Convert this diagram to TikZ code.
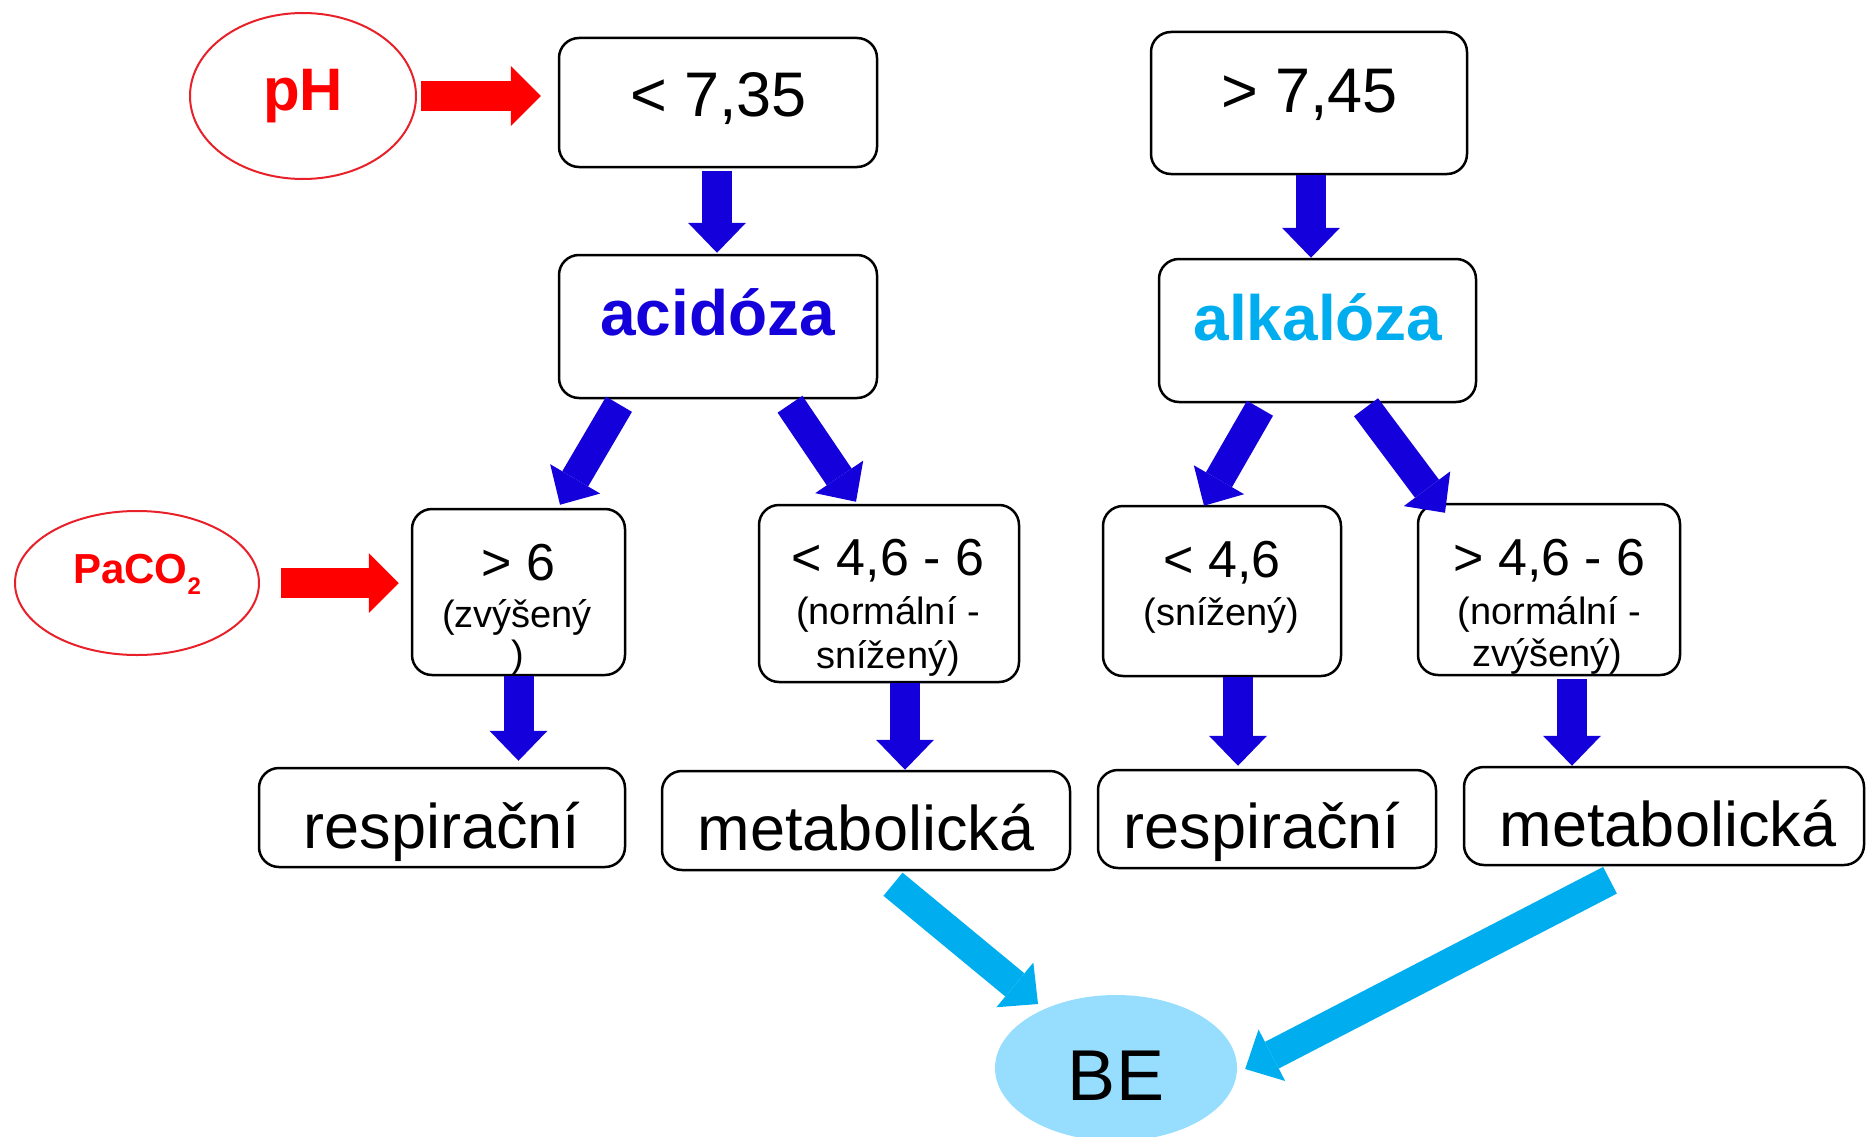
\documentclass[tikz,border=0pt]{standalone}
\usepackage{fontspec}
\setmainfont{Liberation Sans}
\usetikzlibrary{arrows.meta,calc,shapes.geometric}
\definecolor{arrowblue}{RGB}{20,0,218}
\definecolor{skyblue}{RGB}{0,174,239}
\definecolor{paleblue}{RGB}{151,221,253}
\definecolor{signalred}{RGB}{255,0,0}
\definecolor{ringred}{RGB}{232,32,42}
\newcommand\sizedfont[1]{\fontsize{#1}{#1}\selectfont}

\begin{document}
\begin{tikzpicture}[x=1pt,y=-1pt,
  box/.style={draw=black, line width=2.5pt, rounded corners=20pt, fill=white, inner sep=0pt},
  ring/.style={ellipse, draw=ringred, line width=2pt, inner sep=0pt},
  txt/.style={inner sep=0pt, anchor=base},
  fat/.style={line width=30pt, -{Triangle[length=30pt,width=58pt,line width=0pt]}},
  bluearrow/.style={fat, color=arrowblue},
  cyanarrow/.style={fat, color=skyblue},
  redarrow/.style={line width=30pt, color=signalred, -{Triangle[length=30pt,width=60pt,line width=0pt]}},
]
\useasboundingbox (0,0) rectangle (1866,1137);

% ---- ellipses ----
\node[ring, minimum width=226pt, minimum height=166pt] (ph) at (303,96) {};
\node[ring, minimum width=244pt, minimum height=144pt] (paco) at (137,583) {};
\node[ellipse, fill=paleblue, inner sep=0pt, minimum width=242pt, minimum height=146pt] (be) at (1116,1068) {};

% ---- boxes ----
\node[box, minimum width=318pt, minimum height=129pt] (b735)  at (718,102.5) {};
\node[box, minimum width=316pt, minimum height=142pt] (b745)  at (1309,103) {};
\node[box, minimum width=318pt, minimum height=143pt] (acid)  at (718,326.5) {};
\node[box, minimum width=317pt, minimum height=143pt] (alk)   at (1317.5,330.5) {};
\node[box, minimum width=213pt, minimum height=166pt] (gt6)   at (518.5,592) {};
\node[box, minimum width=260pt, minimum height=177pt] (lt466) at (889,593.5) {};
\node[box, minimum width=238pt, minimum height=170pt] (lt46)  at (1222,591) {};
\node[box, minimum width=262pt, minimum height=171pt] (gt466) at (1549,589.5) {};
\node[box, minimum width=366pt, minimum height=99pt]  (resp1) at (442,817.5) {};
\node[box, minimum width=408pt, minimum height=99pt]  (met1)  at (866,820.5) {};
\node[box, minimum width=338pt, minimum height=98pt]  (resp2) at (1267,819) {};
\node[box, minimum width=400pt, minimum height=98pt]  (met2)  at (1664,816) {};

% ---- red input arrows ----
\draw[redarrow] ($(ph.east)+(4,0)$) -- ($(ph.east -| b735.west)+(-17,0)$);
\draw[redarrow] ($(paco.east)+(21,0)$) -- ($(paco.east -| gt6.west)+(-12,0)$);

% ---- blue flow arrows ----
\draw[bluearrow] ($(b735.south)+(-1,3)$) -- ($(acid.north)+(-1,-1)$);
\draw[bluearrow] ($(b745.south)+(2,0)$) -- ($(alk.north)+(-6.5,0)$);
\draw[bluearrow] ($(acid.south)+(-99,5)$) -- ($(gt6.north)+(41.5,-3)$);
\draw[bluearrow] ($(acid.south)+(72,5)$) -- ($(lt466.north)+(-33,-2)$);
\draw[bluearrow] ($(alk.south)+(-57.5,5)$) -- ($(lt46.north)+(-18,1)$);
\draw[bluearrow] ($(alk.south)+(48.5,4)$) -- ($(gt466.north)+(-104,10)$);
\draw[bluearrow] (gt6.south) -- ($(gt6.south |- resp1.north)+(0,-6)$);
\draw[bluearrow] ($(lt466.south)+(16,0)$) -- ($(lt466.south |- met1.north)+(16,0)$);
\draw[bluearrow] ($(lt46.south)+(16,0)$) -- ($(lt46.south |- resp2.north)+(16,-3)$);
\draw[bluearrow] ($(gt466.south)+(23,3)$) -- ($(gt466.south |- met2.north)+(23,0)$);

% ---- cyan arrows into BE ----
\draw[cyanarrow] ($(met1.south)+(27,13)$) -- ($(be.center)+(-78,-64)$);
\draw[cyanarrow] ($(met2.south)+(-54,14)$) -- ($(be.east)+(8,1)$);

% ---- texts ----
\node[txt, text=signalred, font=\sizedfont{60}\bfseries] (tph) at (303,111) {pH};
\node[txt, text=signalred, font=\sizedfont{42}\bfseries] (tpaco) at (137,583)
  {PaCO\raisebox{-11pt}{\sizedfont{24}2}};
\node[txt, font=\sizedfont{72}] (tbe) at (1116,1100) {BE};

\node[txt, font=\sizedfont{63}] (t735) at (718.5,117) {< 7,35};
\node[txt, font=\sizedfont{63}] (t745) at (1309.5,113) {> 7,45};
\node[txt, text=arrowblue, font=\sizedfont{64}\bfseries] (tacid) at (717.5,335) {acidóza};
\node[txt, text=skyblue, font=\sizedfont{64}\bfseries] (talk) at (1318,340) {alkalóza};

\node[txt, font=\sizedfont{52}] (tgt6a) at (518.5,580) {> 6};
\node[txt, font=\sizedfont{38}] (tgt6b) at (517,627) {(zvýšený};
\node[txt, font=\sizedfont{38}] (tgt6c) at (518,667) {)};

\node[txt, font=\sizedfont{52}] (tlt466a) at (888,575) {< 4,6 - 6};
\node[txt, font=\sizedfont{38}] (tlt466b) at (888,624) {(normální -};
\node[txt, font=\sizedfont{38}] (tlt466c) at (888,668) {snížený)};

\node[txt, font=\sizedfont{52}] (tlt46a) at (1222,577) {< 4,6};
\node[txt, font=\sizedfont{38}] (tlt46b) at (1221.5,625) {(snížený)};

\node[txt, font=\sizedfont{52}] (tgt466a) at (1549.5,575) {> 4,6 - 6};
\node[txt, font=\sizedfont{38}] (tgt466b) at (1549.5,624) {(normální -};
\node[txt, font=\sizedfont{38}] (tgt466c) at (1547,666) {zvýšený)};

\node[txt, font=\sizedfont{63}] (tresp1) at (442,848) {respirační};
\node[txt, font=\sizedfont{63}] (tmet1)  at (866,850) {metabolická};
\node[txt, font=\sizedfont{63}] (tresp2) at (1262,848) {respirační};
\node[txt, font=\sizedfont{63}] (tmet2)  at (1668,846) {metabolická};
\end{tikzpicture}
\end{document}
